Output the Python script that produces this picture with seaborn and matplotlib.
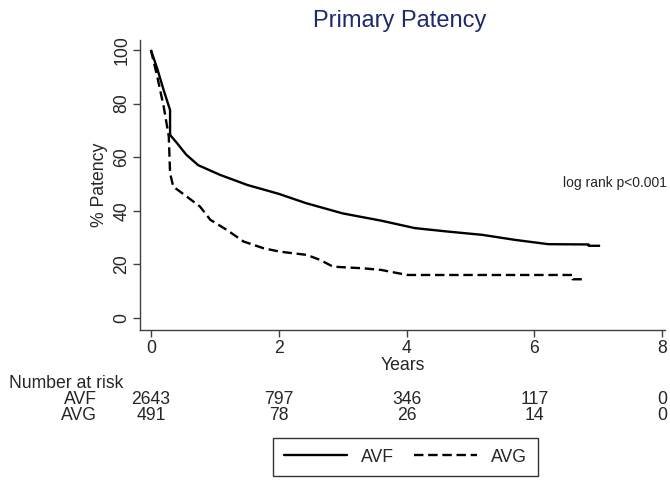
import pandas as pd
import seaborn as sns
import matplotlib.pyplot as plt
from matplotlib.lines import Line2D
from matplotlib.transforms import blended_transform_factory

# curve values (years, % patency)
avf_t = [0, 0.10, 0.20, 0.30, 0.30, 0.41, 0.55, 0.74, 1.08, 1.51, 2.0, 2.43, 3.0, 3.6,
         4.13, 4.65, 5.18, 5.7, 6.22, 6.85, 6.85, 7.03]
avf_y = [100, 93, 85, 77.6, 68.3, 65.2, 61, 57, 53.4, 49.6, 46.3, 42.8, 39, 36.3,
         33.5, 32.2, 31, 29.1, 27.5, 27.4, 26.9, 26.9]
avg_t = [0, 0.10, 0.20, 0.28, 0.30, 0.35, 0.56, 0.77, 0.93, 1.19, 1.45, 1.76, 2.02,
         2.44, 2.65, 2.85, 3.32, 3.6, 3.86, 4.02, 6.6, 6.6, 6.8]
avg_y = [100, 90, 78.9, 67.7, 54, 49, 45.3, 41.5, 36.6, 32.8, 28.5, 26, 24.7,
         23.5, 21.6, 19.1, 18.5, 17.9, 16.7, 16, 16, 14.4, 14.4]

risk_years = [0, 2, 4, 6, 8]
avf_risk = [2643, 797, 346, 117, 0]
avg_risk = [491, 78, 26, 14, 0]

df = pd.concat([
    pd.DataFrame({'Years': avf_t, 'Patency': avf_y, 'group': 'AVF'}),
    pd.DataFrame({'Years': avg_t, 'Patency': avg_y, 'group': 'AVG'}),
])

sns.set_style('white')
plt.rcParams['font.family'] = ['Liberation Sans', 'DejaVu Sans']
fs = 12.7

fig = plt.figure(figsize=(6.7, 4.83), dpi=100)
ax = fig.add_axes([0.209, 0.317, 0.784, 0.60])

sns.lineplot(data=df, x='Years', y='Patency', hue='group', style='group',
             palette=['black', 'black'], dashes=[(1, 0), (4, 2)],
             sort=False, estimator=None, units='group', linewidth=1.7,
             legend=False, ax=ax)

ax.set_xlim(-0.17, 8.05)
ax.set_ylim(-4.5, 103.7)
ax.set_xticks(risk_years)
ax.set_yticks([0, 20, 40, 60, 80, 100])
ax.tick_params(axis='both', direction='out', length=5, width=1, color='#404040',
               labelsize=fs, left=True, bottom=True, pad=2)
plt.setp(ax.get_yticklabels(), rotation=90, va='center')
for s in ['top', 'right']:
    ax.spines[s].set_visible(False)
for s in ['left', 'bottom']:
    ax.spines[s].set_color('#404040')
    ax.spines[s].set_linewidth(1)

ax.set_xlabel('Years', fontsize=fs, labelpad=0)
ax.set_ylabel('% Patency', fontsize=fs, labelpad=4)
fig.text(0.597, 0.957, 'Primary Patency', ha='center', va='center', fontsize=17, color='#1f2a6e')

ax.text(8.08, 50.4, 'log rank p<0.001', ha='right', va='center', fontsize=10)

# number at risk table
tr = blended_transform_factory(ax.transData, fig.transFigure)
fig.text(0.013, 1 - 383 / 483, 'Number at risk', ha='left', va='center', fontsize=fs)
fig.text(0.145, 1 - 400 / 483, 'AVF', ha='right', va='center', fontsize=fs)
fig.text(0.145, 1 - 416 / 483, 'AVG', ha='right', va='center', fontsize=fs)
for yr, a, b in zip(risk_years, avf_risk, avg_risk):
    ax.text(yr, 1 - 400 / 483, str(a), transform=tr, ha='center', va='center', fontsize=fs)
    ax.text(yr, 1 - 416 / 483, str(b), transform=tr, ha='center', va='center', fontsize=fs)

handles = [Line2D([], [], color='black', lw=1.7),
           Line2D([], [], color='black', lw=1.7, dashes=(4, 2))]
leg = fig.legend(handles, ['AVF', 'AVG'], loc='center', bbox_to_anchor=(0.605, 1 - 457 / 483),
                 ncol=2, fontsize=fs, frameon=True, fancybox=False, edgecolor='black',
                 handlelength=3.6, columnspacing=1.1, borderpad=0.6, handletextpad=0.8)
leg.get_frame().set_linewidth(1)

fig.savefig('out.png', dpi=100)
